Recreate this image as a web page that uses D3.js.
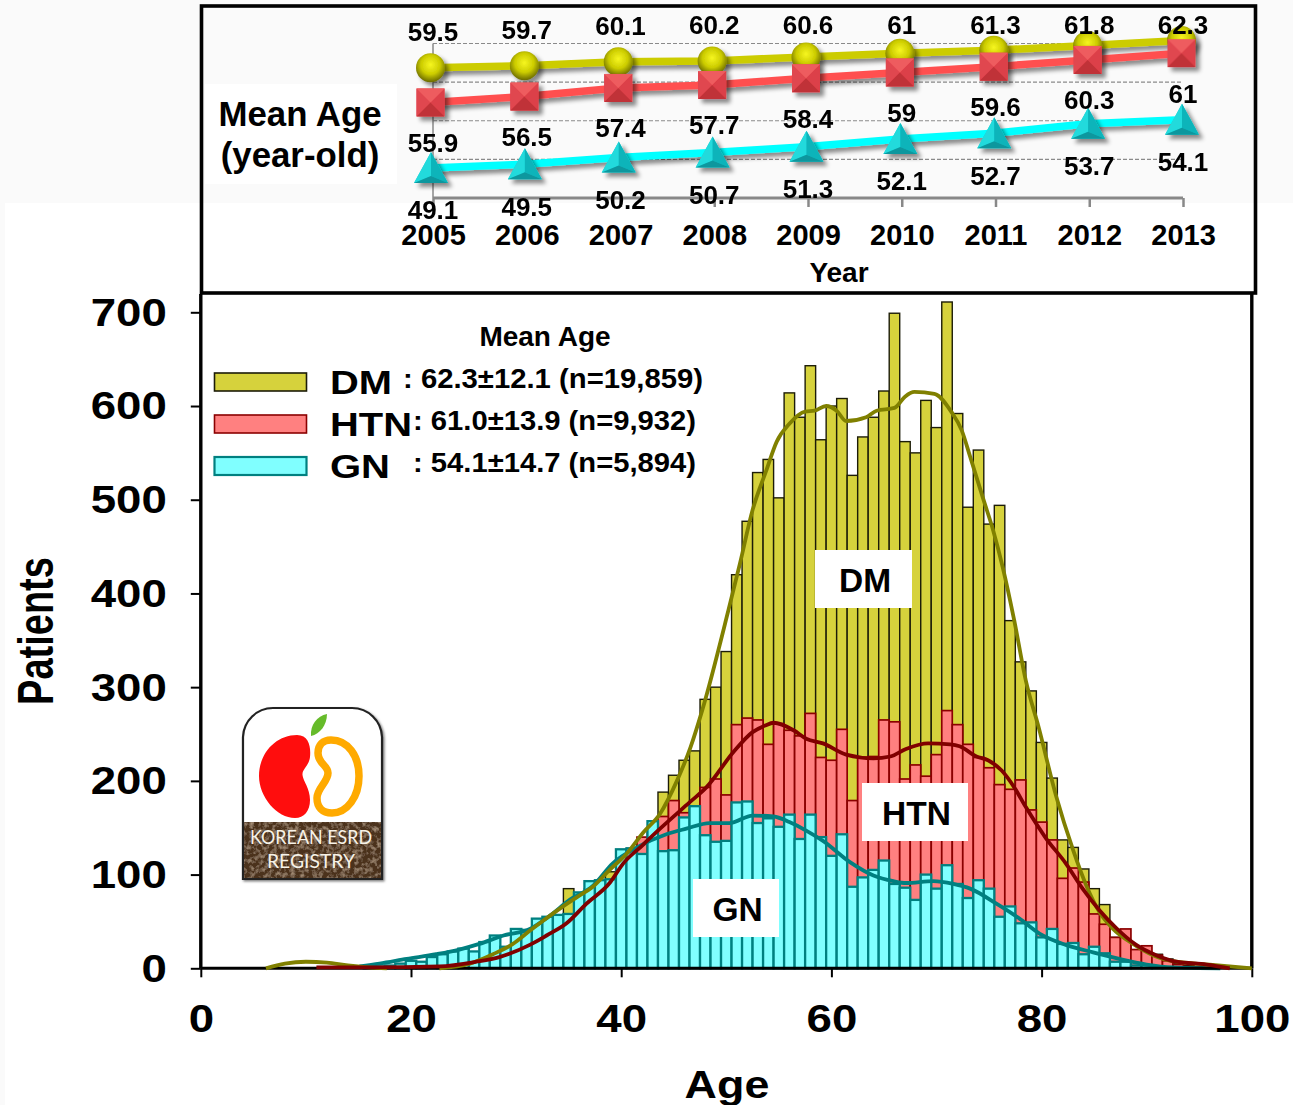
<!DOCTYPE html>
<html><head><meta charset="utf-8">
<script src="https://cdn.jsdelivr.net/npm/d3@7"></script>
<style>html,body{margin:0;padding:0;background:#fff}svg{display:block}text{font-family:"Liberation Sans",Arial,sans-serif;font-weight:700;fill:#000}</style>
</head><body><svg id="c" width="1293" height="1105"></svg>
<script>
// ---- histogram data (patients per single year of age)
const ages = d3.range(15, 101);
const dmCounts = [0,0,0,0,0,0,0,0,1,2,4,6,9,12,18,25,35,45,50,55,85,75,85,88,103,115,128,135,150,188,206,222,232,287,300,338,420,477,529,543,502,614,588,643,564,600,608,526,567,588,616,699,562,550,606,577,711,592,492,553,474,494,371,327,296,241,203,137,129,106,85,68,33,26,18,16,15,10,5,3,2,1,1,1,0,0,0];
const htnCounts = [0,0,0,0,0,1,1,1,2,3,5,7,9,12,16,20,24,30,36,44,50,60,72,85,92,110,120,140,150,162,179,166,170,193,202,185,260,267,265,239,261,254,248,272,225,222,255,179,225,226,265,263,202,217,205,228,275,260,239,225,214,196,191,201,169,156,137,96,107,92,58,47,33,42,20,24,14,8,4,2,1,1,0,0,0,0];
const gnCounts = [0,1,2,3,5,8,7,12,15,18,21,18,28,35,23,42,41,53,55,57,58,81,93,94,95,127,128,122,157,125,126,161,173,142,135,136,177,178,155,160,151,164,138,164,140,120,143,87,97,105,115,90,86,73,100,85,110,90,75,94,85,55,66,48,49,33,42,26,27,15,23,16,7,7,3,3,1,1,0,0,0,0,0,0,0,0];

// ---- smoothed trend curves
const dmHumpAges = [6.2,8,10,12,14,16,17.7];
const dmHumpVals = [0,5,7,6,3,1,0];
const dmCurveAges = [22.7,25.6,27.8,29.7,31.3,32.6,34.2,35.8,37.3,38.9,40.5,42.1,43.7,45.3,46.6,47.7,50.2,51.3,52.5,53.8,54.8,56,57.5,58.4,59.5,60.5,61.4,63.3,64.3,66,67,67.9,69.8,71.4,72.4,73.2,74.5,75.4,76.3,77.4,78.5,79.7,81.4,83,84.3,85.5,86.8,88.7,90.6,92.8,96,100];
const dmCurveVals = [0,5,15,26,40,51,64,76,87,105,122,145,165,200,236,275,382,432,489,531,562,581,594,595,600,595,584,588,595,598,610,615,613,594,574,546,499,467,428,371,307,258,183,126,87,60,42,26,14,7,4,0];
const htnCurveAges = [11,16,22.7,26.2,28.4,31.3,32.9,34.8,36.7,38.9,40.2,42,43.7,46.5,48.1,50.7,52.5,53.7,54.5,56.4,57.6,59.2,61.4,64,65.6,67.1,69.2,71.3,72.2,73.8,74.9,76.2,77.4,78.5,80.4,82.3,83.9,85.5,87.1,89,90.9,92.8,95.7,97.9];
const htnCurveVals = [1,1,2,7,12,25,35,48,69,91,112,131,149,177,193,231,252,259,262,254,245,240,228,224,226,234,240,239,237,226,222,211,193,172,139,112,85,62,43,25,14,7,4,0];
const gnCurveAges = [15.1,17,19.6,22.4,24.6,26.5,28.8,31.3,33.2,35.1,37.3,39.2,41.5,44.3,46.2,48.4,50.3,52.5,54.5,56,57.6,59.2,61.8,64,65.9,67.1,69.7,71.6,73.2,75.7,77.9,79.8,82.3,84.9,87.4,90,92.5,97];
const gnCurveVals = [2,5,10,15,20,26,35,42,56,73,88,112,129,143,149,155,155,163,162,156,147,136,113,99,93,91,93,90,85,69,53,37,25,17,10,4,1,0];

// ---- mean age by year (inset)
const years = [2005,2006,2007,2008,2009,2010,2011,2012,2013];
const dmMean = [59.5,59.7,60.1,60.2,60.6,61,61.3,61.8,62.3];
const htnMean = [55.9,56.5,57.4,57.7,58.4,59,59.6,60.3,61];
const gnMean = [49.1,49.5,50.2,50.7,51.3,52.1,52.7,53.7,54.1];
const insetGrid = [50,54,58,62];

// ---- tick labels and legend text
const xTicks = [0,20,40,60,80,100];
const yTicks = [0,100,200,300,400,500,600,700];
const legendNames = ["DM","HTN","GN"];
const legendStats = [": 62.3\u00b112.1 (n=19,859)",": 61.0\u00b113.9 (n=9,932)",": 54.1\u00b114.7 (n=5,894)"];

const COL = {
  DM:{fill:"#d6d23c",stroke:"#1c1c08",curve:"#808000"},
  HTN:{fill:"#ff8080",stroke:"#8b0000",curve:"#800000"},
  GN:{fill:"#80ffff",stroke:"#008080",curve:"#008080"}
};

const svg = d3.select("#c");
const defs = svg.append("defs");

// background: faint grey band as in the pasted figure
svg.append("rect").attr("width",1293).attr("height",1105).attr("fill","#fff");
svg.append("rect").attr("width",1293).attr("height",203).attr("fill","#fafafa");
svg.append("rect").attr("width",5).attr("height",1105).attr("fill","#fafafa");

// defs
const shadow = defs.append("filter").attr("id","sh").attr("x","-40%").attr("y","-40%").attr("width","200%").attr("height","200%");
shadow.append("feDropShadow").attr("dx",4).attr("dy",4).attr("stdDeviation",2).attr("flood-color","#000").attr("flood-opacity",0.45);
const ball = defs.append("radialGradient").attr("id","ball").attr("cx","50%").attr("cy","40%").attr("r","60%");
ball.append("stop").attr("offset","0%").attr("stop-color","#f6f620");
ball.append("stop").attr("offset","55%").attr("stop-color","#cccc00");
ball.append("stop").attr("offset","100%").attr("stop-color","#6a6a00");
const logoSh = defs.append("filter").attr("id","lsh").attr("x","-10%").attr("y","-10%").attr("width","120%").attr("height","120%");
logoSh.append("feDropShadow").attr("dx",1.5).attr("dy",1.5).attr("stdDeviation",1.2).attr("flood-color","#000").attr("flood-opacity",0.5);
const soil = defs.append("filter").attr("id","soil").attr("x","0").attr("y","0").attr("width","100%").attr("height","100%");
soil.append("feTurbulence").attr("type","fractalNoise").attr("baseFrequency",0.22).attr("numOctaves",3).attr("seed",4).attr("result","n");
soil.append("feColorMatrix").attr("in","n").attr("type","matrix").attr("values","0 0 0 0 0.52  0 0 0 0 0.38  0 0 0 0 0.26  0 0 0 1.6 -0.7").attr("result","c");
soil.append("feComposite").attr("in","c").attr("in2","SourceGraphic").attr("operator","in").attr("result","t");
const sm = soil.append("feMerge"); sm.append("feMergeNode").attr("in","SourceGraphic"); sm.append("feMergeNode").attr("in","t");

// ---------- main histogram
const x = d3.scaleLinear().domain([0,100]).range([200.8,1251.8]);
const y = d3.scaleLinear().domain([0,700]).range([968.3,312.3]);
const hw = (x(1)-x(0))/2;

function bars(vals, c, sw){
  svg.append("g").selectAll("rect").data(ages.map((a,i)=>({a,v:vals[i]})).filter(d=>d.v>0)).join("rect")
    .attr("x",d=>x(d.a)-hw).attr("width",hw*2).attr("y",d=>y(d.v)).attr("height",d=>y(0)-y(d.v))
    .attr("fill",c.fill).attr("stroke",c.stroke).attr("stroke-width",sw);
}
bars(dmCounts,COL.DM,1.4);
bars(htnCounts,COL.HTN,1.7);
bars(gnCounts,COL.GN,2.3);

const curveLine = d3.line().x(d=>x(d[0])).y(d=>y(d[1])).curve(d3.curveMonotoneX);
function curve(a,v,col){
  svg.append("path").attr("d",curveLine(a.map((t,i)=>[t,v[i]]))).attr("fill","none").attr("stroke",col).attr("stroke-width",3.8);
}
curve(gnCurveAges,gnCurveVals,COL.GN.curve);

// axes
const stretch = (sel,k)=>sel.each(function(){const w=this.getComputedTextLength();d3.select(this).attr("textLength",w*k).attr("lengthAdjust","spacingAndGlyphs");});
const gy = svg.append("g").attr("transform",`translate(${x(0)},0)`)
  .call(d3.axisLeft(y).tickValues(yTicks).tickSize(10).tickPadding(24).tickFormat(d3.format("d")));
gy.select(".domain").attr("stroke","#000").attr("stroke-width",3.4).attr("d",`M0,294V${y(0)}`);
gy.selectAll(".tick line").attr("stroke","#000").attr("stroke-width",2);
gy.selectAll("text").attr("font-size",38).attr("fill","#000").attr("dy","0.34em").call(stretch,1.2);
const gx = svg.append("g").attr("transform",`translate(0,${y(0)})`)
  .call(d3.axisBottom(x).tickValues(xTicks).tickSize(9).tickPadding(28).tickFormat(d3.format("d")));
gx.select(".domain").attr("stroke","#000").attr("stroke-width",3).attr("d",`M${x(0)},0H${x(100)}`);
gx.selectAll(".tick line").attr("stroke","#000").attr("stroke-width",2);
gx.selectAll("text").attr("font-size",38).attr("fill","#000").attr("dy","0.71em").call(stretch,1.2);
// frame right side
svg.append("line").attr("x1",x(100)).attr("x2",x(100)).attr("y1",294).attr("y2",y(0)).attr("stroke","#000").attr("stroke-width",3.4);

curve(dmHumpAges,dmHumpVals,COL.DM.curve);
curve(dmCurveAges,dmCurveVals,COL.DM.curve);
curve(htnCurveAges,htnCurveVals,COL.HTN.curve);

// axis titles
svg.append("text").attr("x",727).attr("y",1098).attr("text-anchor","middle").attr("font-size",38).text("Age").call(stretch,1.18);
svg.append("text").attr("transform","translate(53,631) scale(1.3,1) rotate(-90)").attr("text-anchor","middle").attr("font-size",38).text("Patients");

// in-plot white labels
[["DM",815,550,97,58],["HTN",862,783,106,58],["GN",693,879,86,58]].forEach(([t,bx,by,bw,bh])=>{
  svg.append("rect").attr("x",bx).attr("y",by).attr("width",bw).attr("height",bh).attr("fill","#fff");
  svg.append("text").attr("x",bx+bw/2+1.5).attr("y",by+bh/2+13).attr("text-anchor","middle").attr("font-size",33.5).text(t);
});

// legend
svg.append("text").attr("x",545).attr("y",346).attr("text-anchor","middle").attr("font-size",28).text("Mean Age");
const legY = [382,424,466];
const legStatX = [403,413,413];
const legStatW = [300,283,283];
const legNameW = [62,82,60];
legendNames.forEach((n,i)=>{
  svg.append("rect").attr("x",214.5).attr("y",legY[i]-9).attr("width",92).attr("height",18)
    .attr("fill",COL[n].fill).attr("stroke",COL[n].stroke).attr("stroke-width",n==="GN"?2.2:1.6);
  svg.append("text").attr("x",330).attr("y",legY[i]+11.5).attr("font-size",33).attr("textLength",legNameW[i]).attr("lengthAdjust","spacingAndGlyphs").text(n);
  svg.append("text").attr("x",legStatX[i]).attr("y",legY[i]+6).attr("font-size",28.5).attr("textLength",legStatW[i]).attr("lengthAdjust","spacingAndGlyphs").text(legendStats[i]);
});

// logo
const logo = svg.append("g");
const badge = "M243,879V737A30,30 0 0 1 273,708H352A30,30 0 0 1 382,737V879Z";
logo.append("path").attr("d",badge).attr("fill","#fff").attr("stroke","#222").attr("stroke-width",2.2).attr("filter","url(#lsh)");
logo.append("path").attr("d","M244,822H381V878H244Z").attr("fill","#4c311d").attr("filter","url(#soil)");
logo.append("path").attr("d","M297,735C309,735 311,747 310,757C309,766 302,769 302.5,775C303,781 310,788 310,800C310,811 304,818 295,818C277,818 259,797 259,776C259,753 276,735 297,735Z").attr("fill","#ff0d0d");
logo.append("path").attr("d","M331,740C348,740 359,756 359,776C359,797 347,813 332,813C322,813 317,807 317,798C317,788 328,782 328,773C328,765 318,764 318,753C318,745 323,740 331,740Z").attr("fill","#fff").attr("stroke","#ffaa00").attr("stroke-width",7.5);
logo.append("path").attr("d","M311,736C310,725 317,716 327,714C327,725 320,734 311,736Z").attr("fill","#66bb2a");
logo.append("text").attr("x",250).attr("y",844).attr("font-size",19).attr("textLength",122).attr("lengthAdjust","spacingAndGlyphs").style("font-family","Lato").style("font-weight",400).style("fill","#f7f2e8").text("KOREAN  ESRD");
logo.append("text").attr("x",267).attr("y",868).attr("font-size",19).attr("textLength",88).attr("lengthAdjust","spacingAndGlyphs").style("font-family","Lato").style("font-weight",400).style("fill","#f7f2e8").text("REGISTRY");

// ---------- inset: mean age by year
svg.append("rect").attr("x",201.5).attr("y",6).attr("width",1054).attr("height",287).attr("fill","none").attr("stroke","#000").attr("stroke-width",3.6);
svg.append("rect").attr("x",205).attr("y",84).attr("width",192).attr("height",100).attr("fill","#fff");
svg.append("text").attr("x",300).attr("y",126).attr("text-anchor","middle").attr("font-size",34.8).text("Mean Age");
svg.append("text").attr("x",300).attr("y",167).attr("text-anchor","middle").attr("font-size",34.8).text("(year-old)");

const xi = d3.scalePoint().domain(years).range([433,1183]);          // axis positions
const xm = d3.scalePoint().domain(years).range([430.5,1181.5]);      // marker positions
const yi = d3.scaleLinear().domain([46,62]).range([198,43.5]);

svg.append("g").selectAll("line").data(insetGrid).join("line")
  .attr("x1",xi(2005)).attr("x2",xi(2013)).attr("y1",d=>yi(d)).attr("y2",d=>yi(d))
  .attr("stroke","#8a8a8a").attr("stroke-width",1.2).attr("stroke-dasharray","4 2");
const gxi = svg.append("g").attr("transform",`translate(0,${yi(46)})`)
  .call(d3.axisBottom(xi).tickSize(9).tickPadding(17).tickFormat(d3.format("d")));
gxi.select(".domain").attr("stroke","#888").attr("stroke-width",3).attr("d",`M${xi(2005)},0H${xi(2013)}`);
gxi.selectAll(".tick line").attr("stroke","#888").attr("stroke-width",2.5);
gxi.selectAll("text").attr("font-size",29).attr("fill","#000").attr("dy","0.71em");
svg.append("line").attr("x1",xi(2005)).attr("x2",xi(2005)).attr("y1",yi(62)).attr("y2",yi(46)).attr("stroke","#888").attr("stroke-width",1.5);
svg.append("text").attr("x",839).attr("y",282).attr("text-anchor","middle").attr("font-size",28).text("Year");

const meanLine = d3.line().x((d,i)=>xm(years[i])).y(d=>yi(d));
function trend(vals,col){
  svg.append("path").attr("d",meanLine(vals)).attr("fill","none").attr("stroke",col).attr("stroke-width",7.5).attr("filter","url(#sh)");
}
trend(dmMean,"#cccc00");
const balls = svg.append("g").attr("filter","url(#sh)");
balls.selectAll("circle").data(dmMean).join("circle").attr("cx",(d,i)=>xm(years[i])).attr("cy",d=>yi(d)).attr("r",14.5).attr("fill","url(#ball)");
trend(htnMean,"#ff5050");
const sq = svg.append("g").attr("filter","url(#sh)").selectAll("g").data(htnMean).join("g").attr("transform",(d,i)=>`translate(${xm(years[i])},${yi(d)})`);
sq.append("rect").attr("x",-14).attr("y",-14).attr("width",28).attr("height",28).attr("fill","#e8474c");
sq.append("path").attr("d","M-14,-14L0,0L-14,14Z").attr("fill","#e04650");
sq.append("path").attr("d","M14,-14L0,0L14,14Z").attr("fill","#dc4048");
sq.append("path").attr("d","M-14,-14H14L0,0Z").attr("fill","#ee5c5e");
sq.append("path").attr("d","M-14,14H14L0,0Z").attr("fill","#c03238");
trend(gnMean,"#00ffff");
const tri = svg.append("g").attr("filter","url(#sh)").selectAll("g").data(gnMean).join("g").attr("transform",(d,i)=>`translate(${xm(years[i])+0.5},${yi(d)})`);
tri.append("path").attr("d","M0,-16L17,15H-17Z").attr("fill","#18cdd2");
tri.append("path").attr("d","M0,-16L0,8L-17,15Z").attr("fill","#22dadc");
tri.append("path").attr("d","M0,-16L0,8L17,15Z").attr("fill","#0cb4ba");
tri.append("path").attr("d","M-17,15L0,8L17,15Z").attr("fill","#0a979e");

const valFmt = d3.format("~g");
const labelStyle = s=>s.attr("text-anchor","middle").attr("font-size",26).attr("dy","0.36em").text(d=>valFmt(d));
svg.append("g").selectAll("text").data(dmMean).join("text").attr("x",(d,i)=>xi(years[i])).attr("y",d=>Math.max(25,yi(d)-36.5)).call(labelStyle);
svg.append("g").selectAll("text").data(htnMean).join("text").attr("x",(d,i)=>xi(years[i])).attr("y",d=>yi(d)+40).call(labelStyle);
svg.append("g").selectAll("text").data(gnMean).join("text").attr("x",(d,i)=>xi(years[i])).attr("y",d=>yi(d)+42).call(labelStyle);
</script></body></html>
